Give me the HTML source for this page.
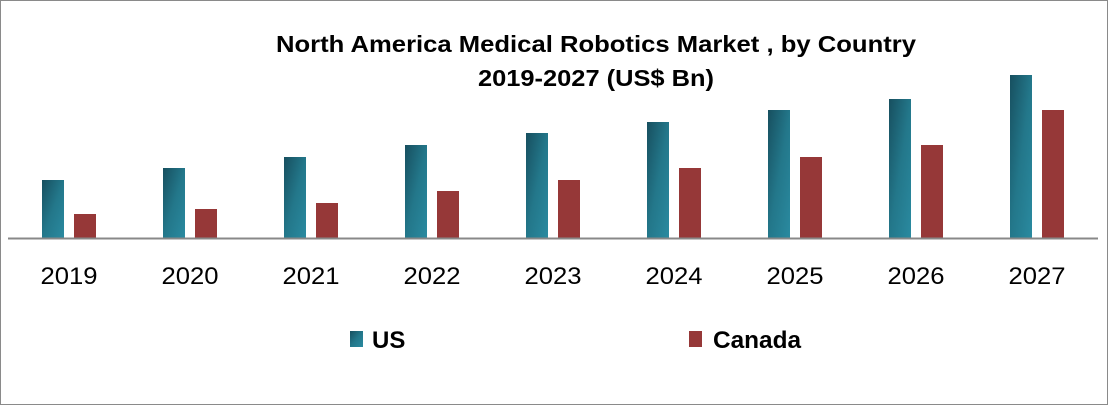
<!DOCTYPE html>
<html><head><meta charset="utf-8"><style>
body{margin:0;width:1108px;height:405px;overflow:hidden;background:#fff;font-family:"Liberation Sans",sans-serif}
#frame{position:absolute;left:0;top:0;width:1106px;height:403px;border:1px solid #8a8a8a}
</style></head><body>
<div id="frame"></div>
<svg id="c" width="1108" height="405" style="position:absolute;left:0;top:0">
<defs>
<linearGradient id="gUS" x1="0" y1="0" x2="1" y2="1"><stop offset="0" stop-color="#174f5f"/><stop offset="0.5" stop-color="#23778a"/><stop offset="1" stop-color="#2a8aa0"/></linearGradient>
</defs>
<text x="276" y="52" textLength="640" lengthAdjust="spacingAndGlyphs" font-size="23" font-weight="bold" fill="#000">North America Medical Robotics Market , by Country</text>
<text x="478" y="86" textLength="236" lengthAdjust="spacingAndGlyphs" font-size="23" font-weight="bold" fill="#000">2019-2027 (US$ Bn)</text>
<g id="bars"></g>
<line x1="8" x2="1098" y1="238.5" y2="238.5" stroke="#888" stroke-width="2"/>
<g id="labels"></g>
<rect x="350" y="331" width="13" height="16" fill="url(#gUS)"/>
<text x="372" y="348" font-size="24" font-weight="bold">US</text>
<rect x="689" y="331" width="13" height="16" fill="#963838"/>
<text x="713" y="348" textLength="88" lengthAdjust="spacingAndGlyphs" font-size="24" font-weight="bold">Canada</text>
</svg>
<script>
const categories=["2019","2020","2021","2022","2023","2024","2025","2026","2027"];
const usValues=[58,70,81,93,105,116,128,139,163];
const canadaValues=[24,29,35,47,58,70,81,93,128];
const baseY=238, scale=1, step=121, x0=42, bw=22;
const ns="http://www.w3.org/2000/svg";
const xPos=i=>x0+i*step;
const yPos=v=>baseY-v*scale;
const bars=document.getElementById('bars'), labels=document.getElementById('labels');
categories.forEach((c,i)=>{
  const a=document.createElementNS(ns,'rect');
  a.setAttribute('x',xPos(i));a.setAttribute('y',yPos(usValues[i]));a.setAttribute('width',bw);a.setAttribute('height',baseY-yPos(usValues[i]));a.setAttribute('fill','url(#gUS)');
  
  
  bars.appendChild(a);
  const b=document.createElementNS(ns,'rect');
  b.setAttribute('x',xPos(i)+32);b.setAttribute('y',yPos(canadaValues[i]));b.setAttribute('width',bw);b.setAttribute('height',baseY-yPos(canadaValues[i]));b.setAttribute('fill','#963838');
  
  
  bars.appendChild(b);
  const t=document.createElementNS(ns,'text');
  t.setAttribute('x',xPos(i)+27);t.setAttribute('y',284);t.setAttribute('text-anchor','middle');t.setAttribute('font-size','24');
  t.setAttribute('textLength','57');t.setAttribute('lengthAdjust','spacingAndGlyphs');
  t.textContent=c;
  
  
  labels.appendChild(t);
});
</script>
</body></html>
